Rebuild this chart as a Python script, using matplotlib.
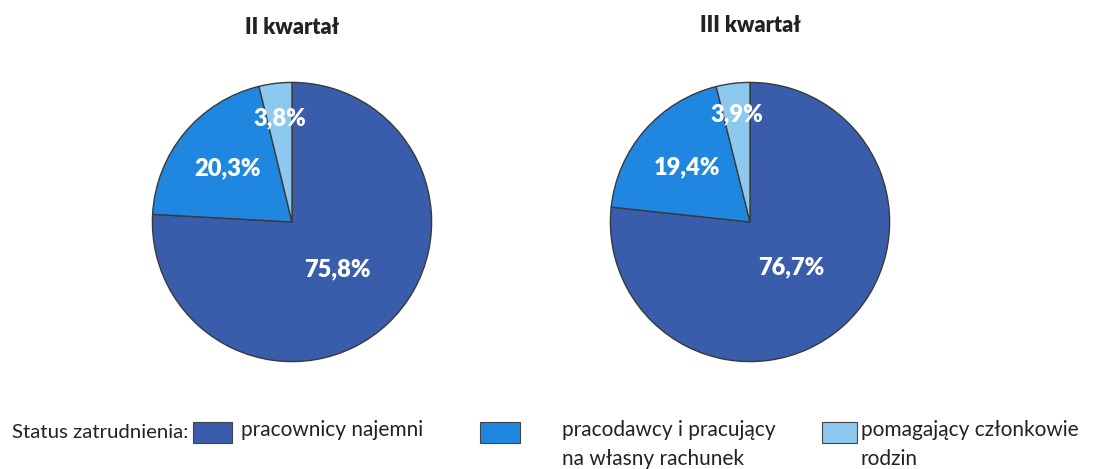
import matplotlib
matplotlib.use("Agg")
import matplotlib.pyplot as plt
from matplotlib.patches import Rectangle
import numpy as np

plt.rcParams['font.family'] = ['Lato', 'DejaVu Sans']

categories = ["pracownicy najemni", "pracodawcy i pracujący\nna własny rachunek", "pomagający członkowie\nrodzin"]
titles = ["II kwartał", "III kwartał"]
q2_values = [75.8, 20.3, 3.8]
q3_values = [76.7, 19.4, 3.9]
value_labels = [["75,8%", "20,3%", "3,8%"], ["76,7%", "19,4%", "3,9%"]]
colors = ["#395CAB", "#1F87E0", "#8DC8EE"]
legend_title = "Status zatrudnienia:"

W, H = 1120, 469
fig = plt.figure(figsize=(W / 100, H / 100), dpi=100)

def px_axes(x0, y0, x1, y1):
    return fig.add_axes([x0 / W, 1 - y1 / H, (x1 - x0) / W, (y1 - y0) / H])

centers = [292, 750]
R = 141
label_dists = [[0.47, 0.60, 0.75], [0.44, 0.60, 0.78]]
title_y = [28, 26]

for i, (vals, cx) in enumerate(zip([q2_values, q3_values], centers)):
    ax = px_axes(cx - R, 222 - R, cx + R, 222 + R)
    wedges, _ = ax.pie(vals, colors=colors, startangle=90, counterclock=False,
                       wedgeprops=dict(edgecolor="#3a3a3a", linewidth=1.0), radius=1.0)
    ax.set_xlim(-1.01, 1.01)
    ax.set_ylim(-1.01, 1.01)
    ax.set_aspect("equal")
    ax.axis("off")
    for w, lab, d in zip(wedges, value_labels[i], label_dists[i]):
        ang = np.deg2rad((w.theta1 + w.theta2) / 2)
        ax.text(d * np.cos(ang), d * np.sin(ang), lab, ha="center", va="center",
                color="white", fontsize=17, fontweight="heavy")
    fig.text(cx / W, 1 - title_y[i] / H, titles[i], ha="center", va="center",
             fontsize=15.5, fontweight="heavy", color="#222222")

# legend
fs = 15.0
fig.text(12 / W, 1 - 432 / H, legend_title, ha="left", va="center", fontsize=14.7, color="#222222")
boxes = [(193, 232), (480, 520), (822, 857)]
text_x = [241, 562, 861]
for (bx0, bx1), tx, lab, c in zip(boxes, text_x, categories, colors):
    fig.patches.append(Rectangle((bx0 / W, 1 - 443 / H), (bx1 - bx0) / W, 21 / H,
                                 transform=fig.transFigure, facecolor=c,
                                 edgecolor="#444444", linewidth=0.8))
    fig.text(tx / W, 1 - 420 / H, lab, ha="left", va="top", fontsize=fs,
             color="#222222", linespacing=1.55)

fig.savefig("out.png", dpi=100, facecolor="white")
